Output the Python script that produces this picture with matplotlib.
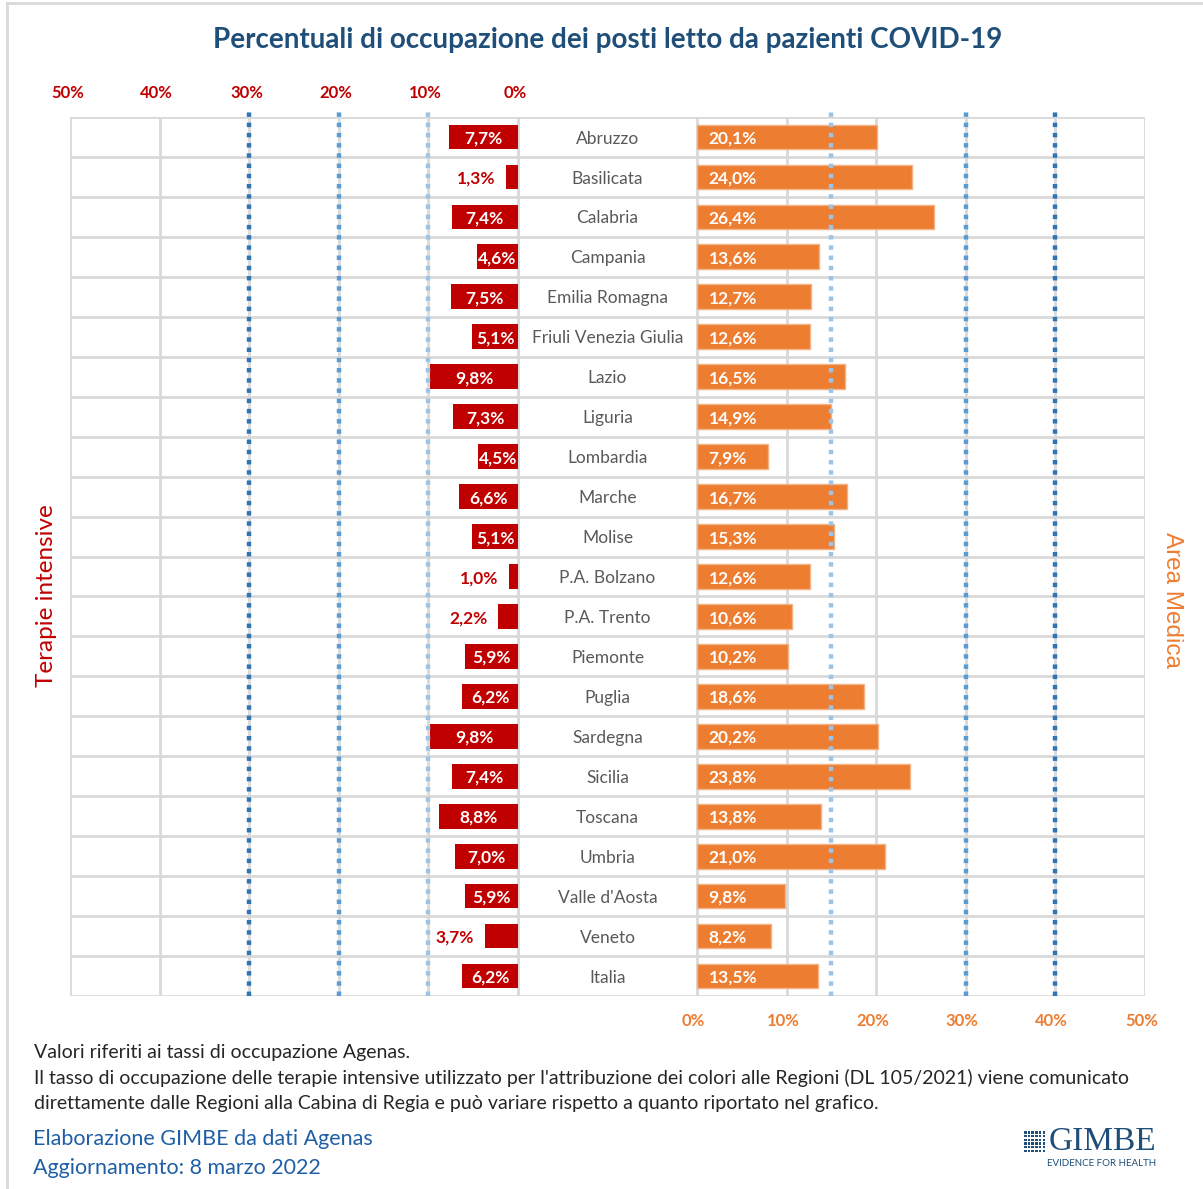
import matplotlib
matplotlib.use("Agg")
import matplotlib.pyplot as plt
import numpy as np

plt.rcParams['font.family'] = ['Lato', 'DejaVu Sans']

regioni = ["Abruzzo", "Basilicata", "Calabria", "Campania", "Emilia Romagna",
           "Friuli Venezia Giulia", "Lazio", "Liguria", "Lombardia", "Marche",
           "Molise", "P.A. Bolzano", "P.A. Trento", "Piemonte", "Puglia",
           "Sardegna", "Sicilia", "Toscana", "Umbria", "Valle d'Aosta",
           "Veneto", "Italia"]
terapie_intensive = [7.7, 1.3, 7.4, 4.6, 7.5, 5.1, 9.8, 7.3, 4.5, 6.6, 5.1,
                     1.0, 2.2, 5.9, 6.2, 9.8, 7.4, 8.8, 7.0, 5.9, 3.7, 6.2]
area_medica = [20.1, 24.0, 26.4, 13.6, 12.7, 12.6, 16.5, 14.9, 7.9, 16.7, 15.3,
               12.6, 10.6, 10.2, 18.6, 20.2, 23.8, 13.8, 21.0, 9.8, 8.2, 13.5]
tick_perc = [0, 10, 20, 30, 40, 50]
soglie_ti = [10, 20, 30]
soglie_am = [15, 30, 40]

RED = "#C00000"
ORANGE = "#ED7D31"
GRID = "#D9D9D9"
BLUES = ["#9DC3E6", "#5B9BD5", "#2E75B6"]
GAP = 20  # width of the label column, in percent units


def fmt(v):
    return f"{v:.1f}%".replace(".", ",")


fig = plt.figure(figsize=(12.03, 11.89), dpi=100)
ax = fig.add_axes([70 / 1203, 1 - 996 / 1189, 1075 / 1203, 879 / 1189])

n = len(regioni)
y = np.arange(n)
ax.set_xlim(-GAP - 50, 50)
ax.set_ylim(n - 0.5, -0.5)

# grid
for b in np.arange(n + 1) - 0.5:
    ax.axhline(b, color=GRID, lw=2, zorder=0)
for t in tick_perc:
    ax.axvline(t, color=GRID, lw=2, zorder=0)
    ax.axvline(-GAP - t, color=GRID, lw=2, zorder=0)
for s in ax.spines.values():
    s.set_visible(False)
ax.set_xticks([])
ax.set_yticks([])

# bars
ti = np.array(terapie_intensive)
am = np.array(area_medica)
ax.barh(y, -ti, left=-GAP, height=0.62, color=RED, zorder=2)
ax.barh(y, am, left=0, height=0.62, color=ORANGE, edgecolor="#F4B183",
        linewidth=1, zorder=2)

# threshold dotted lines
for s, c in zip(soglie_ti, BLUES):
    ax.axvline(-GAP - s, ymin=0, ymax=1.006, color=c, lw=3.2,
               linestyle=(0, (1, 1.3)), zorder=3, clip_on=False)
for s, c in zip(soglie_am, BLUES):
    ax.axvline(s, ymin=0, ymax=1.006, color=c, lw=3.2,
               linestyle=(0, (1, 1.3)), zorder=3, clip_on=False)

# labels
for i in range(n):
    yc = y[i] + 0.04
    ax.text(-GAP / 2, yc, regioni[i], ha="center", va="center",
            fontsize=12.5, color="#595959", zorder=4)
    v = ti[i]
    if v >= 4:
        ax.text(-GAP - v / 2, yc, fmt(v), ha="center", va="center",
                fontsize=12.5, color="white", fontweight="bold", zorder=4)
    else:
        ax.text(-GAP - v - 1.2, yc, fmt(v), ha="right", va="center",
                fontsize=12.5, color=RED, fontweight="bold", zorder=4)
    ax.text(1.3, yc, fmt(am[i]), ha="left", va="center",
            fontsize=12.5, color="white", fontweight="bold", zorder=4)

# axis tick labels
for t in tick_perc:
    ax.text(-GAP - t - 0.3, -0.5 - 0.6, f"{t}%", ha="center", va="center",
            fontsize=12, color=RED, fontweight="bold")
    ax.text(t - 0.4, n - 0.5 + 0.63, f"{t}%", ha="center", va="center",
            fontsize=12, color=ORANGE, fontweight="bold")

fig.text(47 / 1203, 1 - 596 / 1189, "Terapie intensive", rotation=90,
         ha="center", va="center", fontsize=17.5, color=RED)
fig.text(1172 / 1203, 1 - 600 / 1189, "Area Medica", rotation=-90,
         ha="center", va="center", fontsize=17.5, color=ORANGE,
         family=["Liberation Sans", "DejaVu Sans"])

fig.text(608 / 1203, 1 - 40 / 1189,
         "Percentuali di occupazione dei posti letto da pazienti COVID-19",
         ha="center", va="center", fontsize=20, color="#1F4E79",
         fontweight="bold")

# footer
note = ("Valori riferiti ai tassi di occupazione Agenas.\n"
        "Il tasso di occupazione delle terapie intensive utilizzato per l'attribuzione "
        "dei colori alle Regioni (DL 105/2021) viene comunicato\n"
        "direttamente dalle Regioni alla Cabina di Regia e può variare rispetto "
        "a quanto riportato nel grafico.")
fig.text(34 / 1203, 1 - 1044 / 1189, note, ha="left", va="top",
         fontsize=14, color="#262626", linespacing=1.55)
fig.text(33 / 1203, 1 - 1139 / 1189, "Elaborazione GIMBE da dati Agenas",
         ha="left", va="center", fontsize=15.5, color="#1F5FA6")
fig.text(33 / 1203, 1 - 1168 / 1189, "Aggiornamento: 8 marzo 2022",
         ha="left", va="center", fontsize=15.5, color="#1F5FA6")

# logo
fig.text(1156 / 1203, 1 - 1142 / 1189, "GIMBE", ha="right", va="center",
         fontsize=24, color="#1F4E79", family=["Liberation Serif", "DejaVu Serif"])
fig.text(1156 / 1203, 1 - 1163 / 1189, "EVIDENCE FOR HEALTH", ha="right",
         va="center", fontsize=7, color="#1F4E79")
for xi in range(6):
    for yi in range(6):
        fig.patches.append(plt.Rectangle(((1024 + xi * 3.7) / 1203,
                                          1 - (1131 + yi * 3.7 + 2.6) / 1189),
                                         2.5 / 1203, 2.5 / 1189,
                                         transform=fig.transFigure,
                                         facecolor="#1F4E79", linewidth=0))

# outer frame
fig.add_artist(plt.Line2D([7 / 1203, 7 / 1203], [0, 1 - 3 / 1189],
                          transform=fig.transFigure, color=GRID, lw=2))
fig.add_artist(plt.Line2D([7 / 1203, 1], [1 - 3 / 1189, 1 - 3 / 1189],
                          transform=fig.transFigure, color=GRID, lw=2))

fig.savefig("out.png", dpi=100)
